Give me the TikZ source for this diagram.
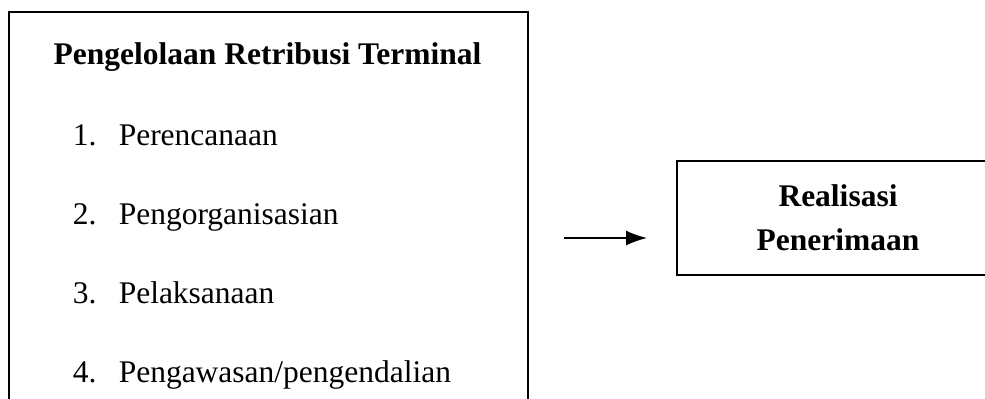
\documentclass[tikz,border=0pt]{standalone}
\usepackage{fontspec}
\setmainfont{Liberation Serif}
\usetikzlibrary{arrows.meta}
\begin{document}
\begin{tikzpicture}[x=0.5pt,y=-0.5pt,>={Latex[length=10.5pt,width=7.5pt]},
		font=\fontsize{15.75}{19}\selectfont,line width=0.75pt]
		\clip (0,0) rectangle (985,398);
		% left box, open at the bottom of the picture
		\node[draw,anchor=north west,minimum width=259.5pt,minimum height=220pt] (pengelolaan) at (8,11) {};
		\node[anchor=base,font=\fontsize{15.75}{19}\selectfont\bfseries] (judul) at (267.5,64) {Pengelolaan Retribusi Terminal};
		\foreach \n/\t in {1/Perencanaan,2/Pengorganisasian,3/Pelaksanaan,4/{Pengawasan/pengendalian}}{
			\node[anchor=base west,inner sep=0pt] (no\n) at (72,145+79*\n-79) {\n.};
			\node[anchor=base west,inner sep=0pt] (item\n) at (118,145+79*\n-79) {\t};
		}
		% right box
		\node[draw,align=center,font=\fontsize{15.75}{19}\selectfont\bfseries,minimum width=161pt,minimum height=57pt] (realisasi) at (838,218) {Realisasi\\[3pt]Penerimaan};
		\coordinate (panahawal) at (564,238);
		\coordinate (panahakhir) at (647,238);
		\draw[->] (panahawal)--(panahakhir);
	\end{tikzpicture}
\end{document}
